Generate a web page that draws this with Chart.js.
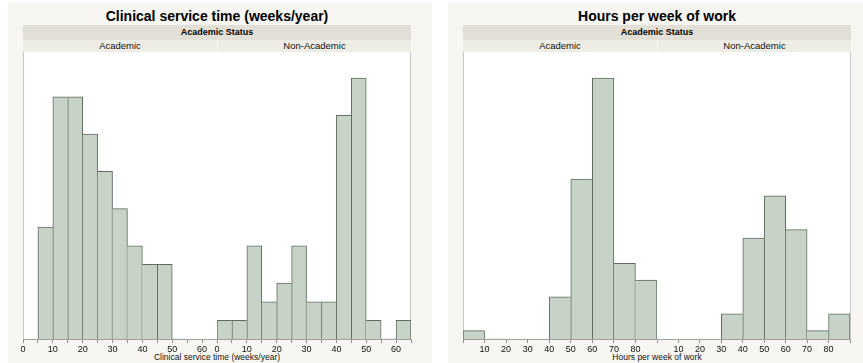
<!DOCTYPE html>
<html>
<head>
<meta charset="utf-8">
<script src="https://cdn.jsdelivr.net/npm/chart.js@4/dist/chart.umd.min.js"></script>
<style>
  html, body { margin: 0; padding: 0; background: #ffffff; }
  body { width: 863px; height: 363px; position: relative; overflow: hidden;
         font-family: "Liberation Sans", Arial, Helvetica, sans-serif; color: #111; }
  .card { position: absolute; top: 3px; bottom: 0; background: #f7f6f2; }
  .title { position: absolute; top: 7px; font-weight: bold; font-size: 14px; line-height: 18px;
           white-space: nowrap; transform: translateX(-50%); color: #000; }
  .band { position: absolute; text-align: center; white-space: nowrap; overflow: hidden; box-sizing: border-box; }
  .group { top: 25px; height: 15px; line-height: 15px; background: #e2e0d6; font-weight: bold; font-size: 9px; color: #000; }
  .level { top: 40px; height: 12px; line-height: 12px; background: #edece5; font-size: 9.5px; color: #111; }
  .level + .level { border-left: 1px solid #f7f6f2; }
  .frame { position: absolute; top: 52px; height: 287px; background: #ffffff; box-sizing: border-box;
           border-left: 1px solid #c6c6c6; border-right: 1px solid #c6c6c6; }
  .axis-title { position: absolute; top: 352px; font-size: 8.5px; line-height: 11px; white-space: nowrap;
                transform: translateX(-50%); color: #111; }
  canvas { position: absolute; top: 52px; }
</style>
</head>
<body>
  <div class="card" style="left:8px; width:424px;"></div>
  <div class="card" style="left:448px; width:415px;"></div>

  <!-- Clinical service time panel -->
  <div class="title" style="left:217px;">Clinical service time (weeks/year)</div>
  <div class="band group" style="left:23px; width:388px;">Academic Status</div>
  <div class="band level" style="left:23px; width:194px;">Academic</div>
  <div class="band level" style="left:217px; width:194px;">Non-Academic</div>
  <div class="frame" style="left:23px; width:388px;"></div>
  <div class="axis-title" style="left:217px;">Clinical service time (weeks/year)</div>

  <!-- Hours per week panel -->
  <div class="title" style="left:657px;">Hours per week of work</div>
  <div class="band group" style="left:463px; width:388px;">Academic Status</div>
  <div class="band level" style="left:463px; width:194px;">Academic</div>
  <div class="band level" style="left:657px; width:194px;">Non-Academic</div>
  <div class="frame" style="left:463px; width:388px;"></div>
  <div class="axis-title" style="left:657px;">Hours per week of work</div>

  <canvas id="clinAcad"></canvas>
  <canvas id="clinNon"></canvas>
  <canvas id="hoursAcad"></canvas>
  <canvas id="hoursNon"></canvas>

<script>
// Clinical service time (weeks/year): bins of 5 weeks, 0–65
const clinicalBinStarts = [0, 5, 10, 15, 20, 25, 30, 35, 40, 45, 50, 55, 60];
const clinicalBinWidth = 5;
const clinicalAcademic    = [0, 6, 13, 13, 11, 9, 7, 5, 4, 4, 0, 0, 0];
const clinicalNonAcademic = [1, 1, 5, 2, 3, 5, 2, 2, 12, 14, 1, 0, 1];
const clinicalTickValues  = [0, 10, 20, 30, 40, 50, 60];

// Hours per week of work: bins of 10 hours, 0–90
const hoursBinStarts = [0, 10, 20, 30, 40, 50, 60, 70, 80];
const hoursBinWidth = 10;
const hoursAcademic    = [1, 0, 0, 0, 5, 19, 31, 9, 7];
const hoursNonAcademic = [0, 0, 0, 3, 12, 17, 13, 1, 3];
const hoursTickValues  = [10, 20, 30, 40, 50, 60, 70, 80];

const FONT = '"Liberation Sans", Arial, Helvetica, sans-serif';
const BAR_FILL = '#c7d3c6';
const BAR_EDGE = '#5f6b5f';
const PLOT_HEIGHT = 287;
const AXIS_HEIGHT = 14;
const SIDE_PAD = 8;

// Outline each step of the histogram once: the taller of two neighbours owns the shared edge.
function edgeWidths(counts) {
  return (ctx) => {
    const i = ctx.dataIndex;
    if (i === undefined) return 1;
    const v = counts[i];
    const prev = i > 0 ? counts[i - 1] : 0;
    const next = i < counts.length - 1 ? counts[i + 1] : 0;
    return { top: 1, left: prev <= v ? 1 : 0, right: next < v ? 1 : 0, bottom: 0 };
  };
}

function histogram(id, plotLeft, plotWidth, binStarts, binWidth, counts, xMax, yMax, tickStep, tickValues) {
  const canvas = document.getElementById(id);
  canvas.width = plotWidth + 2 * SIDE_PAD;
  canvas.height = PLOT_HEIGHT + AXIS_HEIGHT;
  canvas.style.left = (plotLeft - SIDE_PAD) + 'px';
  canvas.style.width = canvas.width + 'px';
  canvas.style.height = canvas.height + 'px';

  const points = binStarts.map((s, i) => ({ x: s + binWidth / 2, y: counts[i] }));

  return new Chart(canvas, {
    type: 'bar',
    data: {
      datasets: [{
        data: points,
        backgroundColor: BAR_FILL,
        borderColor: BAR_EDGE,
        borderWidth: edgeWidths(counts),
        borderSkipped: 'start',
        barPercentage: 1,
        categoryPercentage: 1
      }]
    },
    options: {
      responsive: false,
      maintainAspectRatio: false,
      animation: false,
      events: [],
      layout: { padding: { left: SIDE_PAD, right: SIDE_PAD, top: 0, bottom: 0 } },
      plugins: { legend: { display: false }, tooltip: { enabled: false }, title: { display: false } },
      scales: {
        x: {
          type: 'linear',
          min: 0,
          max: xMax,
          offset: false,
          grid: { display: true, drawOnChartArea: false, drawTicks: true, tickLength: 4,
                  color: '#8f8f8f', offset: false },
          border: { display: true, color: '#a0a0a0', width: 1 },
          ticks: {
            stepSize: tickStep,
            autoSkip: false,
            maxRotation: 0,
            padding: 1,
            color: '#111111',
            font: { family: FONT, size: 9 },
            callback: (v) => tickValues.includes(v) ? String(v) : ''
          },
          afterFit(scale) { scale.height = AXIS_HEIGHT; }
        },
        y: { display: false, min: 0, max: yMax }
      }
    }
  });
}

const clinicalMax = Math.max(...clinicalAcademic, ...clinicalNonAcademic) * 1.1;
const hoursMax = Math.max(...hoursAcademic, ...hoursNonAcademic) * 1.1;

histogram('clinAcad', 23, 194, clinicalBinStarts, clinicalBinWidth, clinicalAcademic, 65, clinicalMax, 5, clinicalTickValues);
histogram('clinNon', 217, 194, clinicalBinStarts, clinicalBinWidth, clinicalNonAcademic, 65, clinicalMax, 5, clinicalTickValues);
histogram('hoursAcad', 463, 194, hoursBinStarts, hoursBinWidth, hoursAcademic, 90, hoursMax, 10, hoursTickValues);
histogram('hoursNon', 657, 193, hoursBinStarts, hoursBinWidth, hoursNonAcademic, 90, hoursMax, 10, hoursTickValues);
</script>
</body>
</html>
